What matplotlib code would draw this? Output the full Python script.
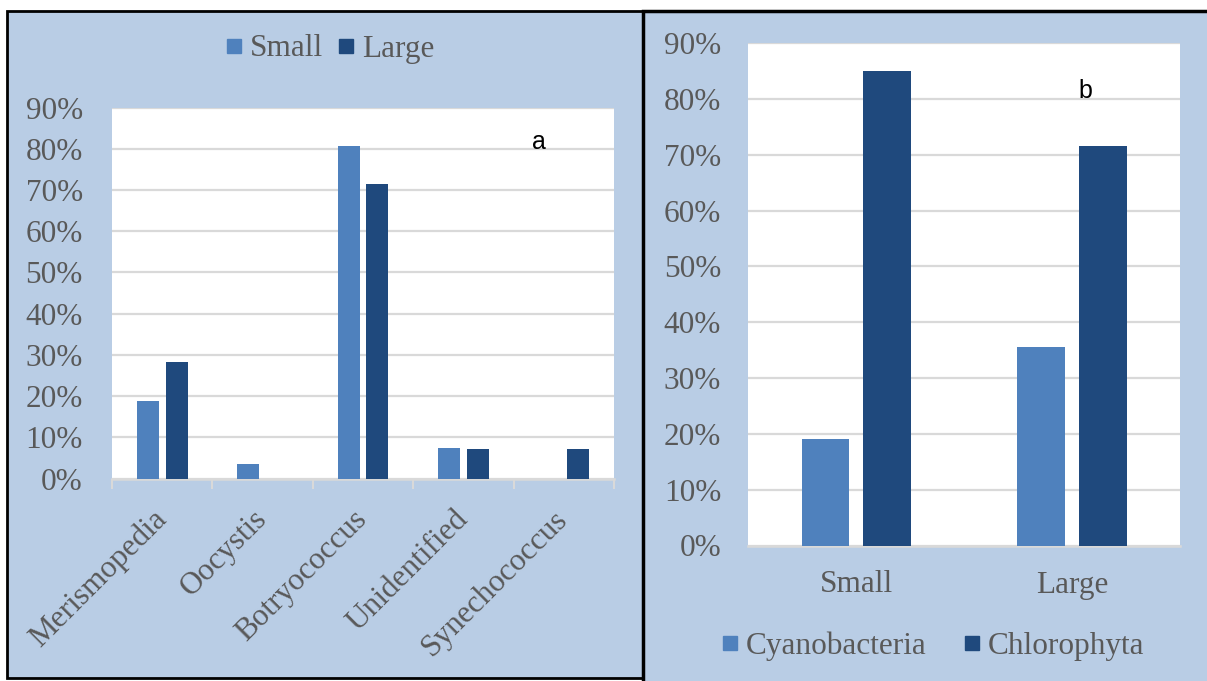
import matplotlib
matplotlib.use("Agg")
import matplotlib.pyplot as plt
from matplotlib.patches import Rectangle
from matplotlib.lines import Line2D
from matplotlib.ticker import FuncFormatter

# panel a: genus share per size class
genera = ["Merismopedia", "Oocystis", "Botryococcus", "Unidentified", "Synechococcus"]
small_a = [0.189, 0.036, 0.808, 0.075, 0.0]
large_a = [0.283, 0.0, 0.715, 0.072, 0.072]

# panel b: phylum share per size class
sizes = ["Small", "Large"]
cyano_b = [0.191, 0.356]
chloro_b = [0.849, 0.716]

yticks = [0, 0.1, 0.2, 0.3, 0.4, 0.5, 0.6, 0.7, 0.8, 0.9]

W, H = 1207, 681
C_LIGHT = "#4F81BD"
C_DARK = "#1F497D"
BG = "#B9CDE5"
GRID = "#D9D9D9"
TXT = "#595959"
SERIF = "Liberation Serif"
FS = 22.5


def box(x0, y0, x1, y1):
    # pixel box (top-left origin) -> figure fraction [l, b, w, h]
    return [x0 / W, 1 - y1 / H, (x1 - x0) / W, (y1 - y0) / H]


fig = plt.figure(figsize=(W / 100, H / 100), dpi=100)
fig.patch.set_facecolor("white")

# panel backgrounds with black frames
l, b, w, h = box(7, 11, 643, 678)
fig.add_artist(Rectangle((l, b), w, h, transform=fig.transFigure,
                         facecolor=BG, edgecolor="black", lw=2.0, zorder=0))
l, b, w, h = box(643, 11, 1220, 700)
fig.add_artist(Rectangle((l, b), w, h, transform=fig.transFigure,
                         facecolor=BG, edgecolor="black", lw=2.5, zorder=0))

pct = FuncFormatter(lambda v, p: f"{v*100:.0f}%")
bw, off = 0.22, 0.143


def style(ax):
    ax.set_facecolor("white")
    ax.set_ylim(0, 0.9)
    ax.set_yticks(yticks)
    ax.yaxis.set_major_formatter(pct)
    ax.grid(axis="y", color=GRID, lw=1.6, zorder=0)
    ax.set_axisbelow(True)
    for s in ["top", "right", "left"]:
        ax.spines[s].set_visible(False)
    ax.spines["bottom"].set_color(GRID)
    ax.spines["bottom"].set_linewidth(1.8)
    for lab in ax.get_yticklabels():
        lab.set_fontfamily(SERIF)
        lab.set_fontsize(FS)
        lab.set_color(TXT)


# ---- panel a
ax1 = fig.add_axes(box(112, 107.7, 614, 478.5))
x = range(len(genera))
ax1.bar([i - off for i in x], small_a, bw, color=C_LIGHT, zorder=3)
ax1.bar([i + off for i in x], large_a, bw, color=C_DARK, zorder=3)
ax1.set_xlim(-0.5, len(genera) - 0.5)
style(ax1)
ax1.tick_params(axis="y", length=0, pad=21)
ax1.set_xticks(list(x))
ax1.set_xticklabels(genera, rotation=45, ha="right", va="center",
                    rotation_mode="anchor", fontfamily=SERIF, fontsize=FS, color=TXT)
ax1.set_xticks([i - 0.5 for i in range(len(genera) + 1)], minor=True)
ax1.tick_params(axis="x", which="major", length=0, pad=26)
ax1.tick_params(axis="x", which="minor", length=7, width=1.5, color=GRID)
ax1.text(0.85, 0.908, "a", transform=ax1.transAxes, fontsize=18,
         fontfamily="Liberation Sans", ha="center", va="center", color="black")

hl = [Line2D([], [], marker="s", ls="none", markersize=10.5, color=c)
      for c in (C_LIGHT, C_DARK)]
fig.legend(hl, ["Small", "Large"], loc="center", bbox_to_anchor=(330 / W, 1 - 49 / H),
           ncol=2, frameon=False, handlelength=0.5, handletextpad=0.25,
           columnspacing=0.5, prop={"family": SERIF, "size": FS}, labelcolor=TXT)

# ---- panel b
ax2 = fig.add_axes(box(748.3, 43, 1180, 545.5))
x2 = range(len(sizes))
ax2.bar([i - off for i in x2], cyano_b, bw, color=C_LIGHT, zorder=3)
ax2.bar([i + off for i in x2], chloro_b, bw, color=C_DARK, zorder=3)
ax2.set_xlim(-0.5, len(sizes) - 0.5)
style(ax2)
ax2.tick_params(axis="y", length=0, pad=19.5)
ax2.set_xticks(list(x2))
ax2.set_xticklabels(sizes, fontfamily=SERIF, fontsize=FS, color=TXT)
ax2.tick_params(axis="x", length=0, pad=18)
ax2.text(0.782, 0.905, "b", transform=ax2.transAxes, fontsize=18,
         fontfamily="Liberation Sans", ha="center", va="center", color="black")

fig.legend(hl, ["Cyanobacteria", "Chlorophyta"], loc="center",
           bbox_to_anchor=(933 / W, 1 - 646 / H), ncol=2, frameon=False,
           handlelength=0.5, handletextpad=0.25, columnspacing=1.2,
           prop={"family": SERIF, "size": FS}, labelcolor=TXT)

fig.savefig("out.png", dpi=100, facecolor=fig.get_facecolor())
